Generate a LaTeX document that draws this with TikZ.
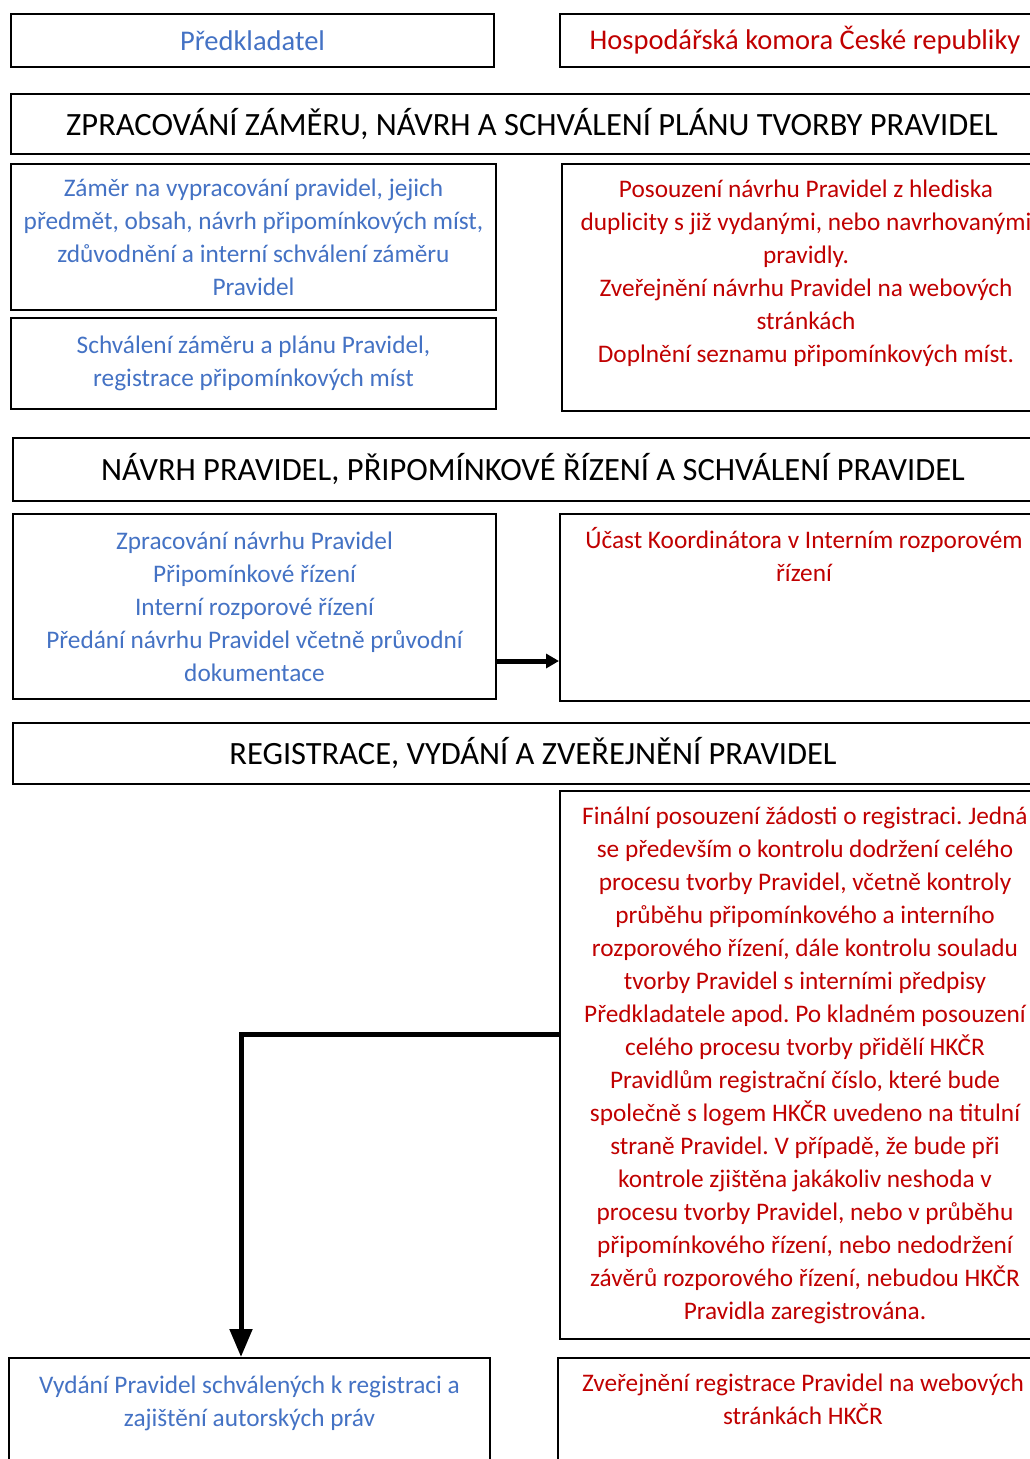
\documentclass[tikz,border=0pt]{standalone}
\usepackage{fontspec}
\setmainfont{Carlito}
\usepackage{tikz}
\usetikzlibrary{arrows.meta}
\frenchspacing
\definecolor{hkblue}{RGB}{68,114,196}
\definecolor{hkred}{RGB}{192,0,0}
\tikzset{
    box/.style={draw, line width=2pt, anchor=north west, inner sep=0pt},
    toptext/.style={font=\fontsize{28.5}{33}\selectfont},
    headtext/.style={font=\fontsize{32.5}{36}\selectfont},
    bodytext/.style={font=\fontsize{25.3}{33}\selectfont, align=center},
    conn/.style={line width=5pt, -{Triangle[length=13pt,width=14pt]}}
}
\begin{document}
\begin{tikzpicture}[x=1pt,y=-1pt]
        \useasboundingbox (0,0) rectangle (1030,1459);
        \clip (0,0) rectangle (1030,1459);

        \node[box, toptext, text=hkblue, minimum width=483pt, minimum height=53pt] (predkladatel) at (10,13) {Předkladatel};
        \node[box, toptext, text=hkred, minimum width=490pt, minimum height=53pt] (komora) at (559,13) {Hospodářská komora České republiky};

        \node[box, headtext, minimum width=1042pt, minimum height=60pt] (faze1) at (10,93) {ZPRACOVÁNÍ ZÁMĚRU, NÁVRH A SCHVÁLENÍ PLÁNU TVORBY PRAVIDEL};
        \node[box, bodytext, text=hkblue, minimum width=485pt, minimum height=146pt] (zamer) at (10,163) {Záměr na vypracování pravidel, jejich\\předmět, obsah, návrh připomínkových míst,\\zdůvodnění a interní schválení záměru\\Pravidel};
        \node[box, bodytext, text=hkblue, minimum width=485pt, minimum height=91pt] (schvaleni) at (10,317) {Schválení záměru a plánu Pravidel,\\registrace připomínkových míst};
        \node[box, minimum width=488pt, minimum height=247pt] (posouzeni) at (561,163) {};
        \node[bodytext, text=hkred, anchor=north, inner sep=0pt] (posouzenitext) at ([yshift=-16.5pt]posouzeni.north) {Posouzení návrhu Pravidel z hlediska\\duplicity s již vydanými, nebo navrhovanými\\pravidly.\\Zveřejnění návrhu Pravidel na webových\\stránkách\\Doplnění seznamu připomínkových míst.};

        \node[box, headtext, minimum width=1040pt, minimum height=63pt] (faze2) at (12,437) {NÁVRH PRAVIDEL, PŘIPOMÍNKOVÉ ŘÍZENÍ A SCHVÁLENÍ PRAVIDEL};
        \node[box, bodytext, text=hkblue, minimum width=483pt, minimum height=185pt] (navrh) at (12,513) {Zpracování návrhu Pravidel\\Připomínkové řízení\\Interní rozporové řízení\\Předání návrhu Pravidel včetně průvodní\\dokumentace};
        \node[box, minimum width=488pt, minimum height=187pt] (ucast) at (559,513) {};
        \node[bodytext, text=hkred, anchor=north, inner sep=0pt] (ucasttext) at ([yshift=-14.5pt]ucast.north) {Účast Koordinátora v Interním rozporovém\\řízení};

        \node[box, headtext, minimum width=1040pt, minimum height=61pt] (faze3) at (12,722) {REGISTRACE, VYDÁNÍ A ZVEŘEJNĚNÍ PRAVIDEL};
        \node[box, bodytext, text=hkred, minimum width=490pt, minimum height=548pt] (finalni) at (559,790) {Finální posouzení žádosti o registraci. Jedná\\se především o kontrolu dodržení celého\\procesu tvorby Pravidel, včetně kontroly\\průběhu připomínkového a interního\\rozporového řízení, dále kontrolu souladu\\tvorby Pravidel s interními předpisy\\Předkladatele apod. Po kladném posouzení\\celého procesu tvorby přidělí HKČR\\Pravidlům registrační číslo, které bude\\společně s logem HKČR uvedeno na titulní\\straně Pravidel. V případě, že bude při\\kontrole zjištěna jakákoliv neshoda v\\procesu tvorby Pravidel, nebo v průběhu\\připomínkového řízení, nebo nedodržení\\závěrů rozporového řízení, nebudou HKČR\\Pravidla zaregistrována.};
        \node[box, minimum width=481pt, minimum height=150pt] (vydani) at (8,1357) {};
        \node[bodytext, text=hkblue, anchor=north, inner sep=0pt] (vydanitext) at ([yshift=-18.5pt]vydani.north) {Vydání Pravidel schválených k registraci a\\zajištění autorských práv};
        \node[box, minimum width=490pt, minimum height=150pt] (zverejneni) at (557,1357) {};
        \node[bodytext, text=hkred, anchor=north, inner sep=0pt] (zverejnenitext) at ([yshift=-16.5pt]zverejneni.north) {Zveřejnění registrace Pravidel na webových\\stránkách HKČR};

        \coordinate (a1) at ([yshift=-54.5pt]navrh.east);
        \coordinate (a2) at ([yshift=31pt]finalni.west);
        \coordinate (a3) at ([xshift=-8.5pt]vydani.north);
        \draw[conn] (a1) -- (a1 -| ucast.west);
        \draw[conn, -{Triangle[length=28pt,width=22pt]}] (a2) -| (a3);
    \end{tikzpicture}
\end{document}
